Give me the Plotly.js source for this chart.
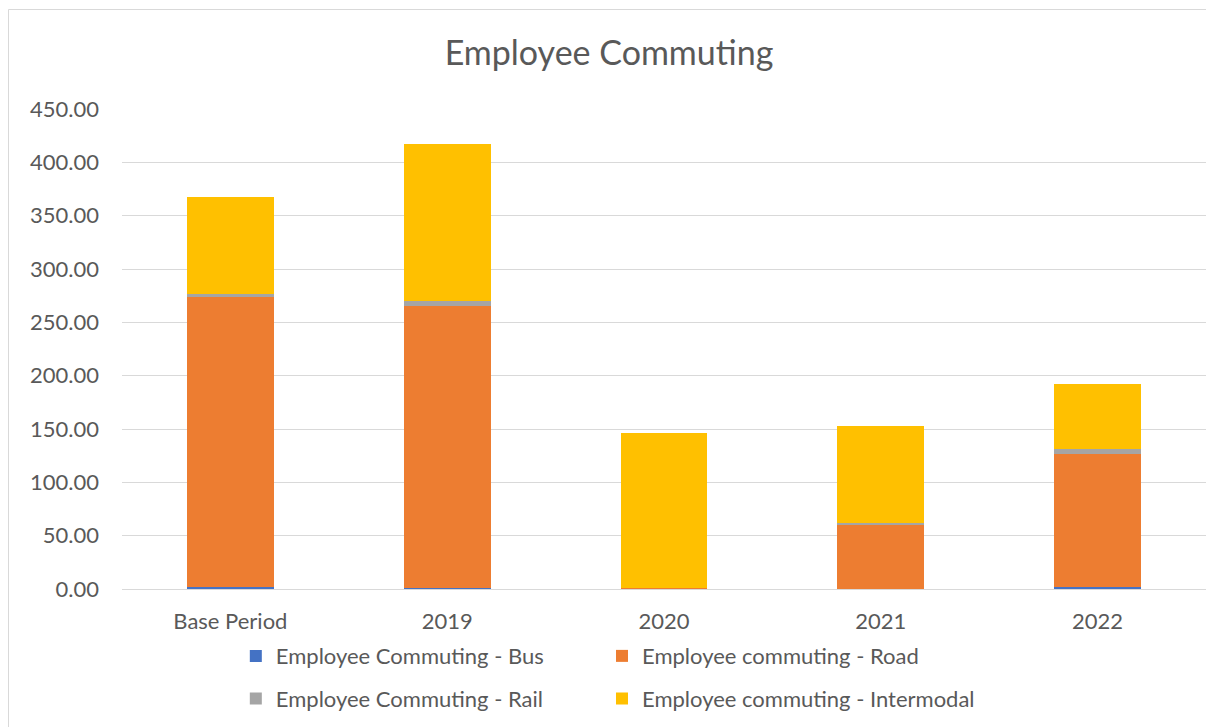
<!DOCTYPE html>
<html>
<head>
<meta charset="utf-8">
<script src="https://cdn.plot.ly/plotly-3.0.1.min.js"></script>
<style>
html,body{margin:0;padding:0;background:#fff;overflow:hidden;}
#chart{width:1206px;height:727px;}
</style>
</head>
<body>
<div id="chart"></div>
<script>
const categories = ["Base Period", "2019", "2020", "2021", "2022"];
const busValues = [2.0, 0.6, 0.0, 0.3, 1.5];
const roadValues = [272.0, 265.0, 0.5, 60.0, 125.5];
const railValues = [2.5, 4.6, 0.3, 1.2, 4.4];
const intermodalValues = [91.0, 147.0, 145.5, 91.3, 60.7];
const seriesNames = ["Employee Commuting - Bus", "Employee commuting - Road", "Employee Commuting - Rail", "Employee commuting - Intermodal"];
const seriesColors = ["#4472C4", "#ED7D31", "#A5A5A5", "#FFC000"];
const seriesLegends = ["legend", "legend2", "legend3", "legend4"];
const seriesValues = [busValues, roadValues, railValues, intermodalValues];

const font = "Lato, 'Open Sans', sans-serif";
const traces = seriesValues.map((vals, i) => ({
  type: "bar",
  name: seriesNames[i],
  x: categories,
  y: vals,
  legend: seriesLegends[i],
  marker: {color: seriesColors[i], line: {width: 0}},
  hoverinfo: "x+y+name"
}));

const legendBase = {orientation: "h", xanchor: "left", yanchor: "top", traceorder: "normal",
  font: {family: font, size: 22, color: "#595959"}, itemwidth: 30, bgcolor: "rgba(0,0,0,0)"};
const col1 = 0.105, col2 = 0.4428, row1 = -0.096, row2 = -0.185;

const borderColor = "#d9d9d9";
const layout = {
  width: 1206, height: 727,
  margin: {l: 122, r: 0, t: 109, b: 138},
  paper_bgcolor: "#fff", plot_bgcolor: "#fff",
  barmode: "stack",
  bargap: 0.6,
  font: {family: font, color: "#595959", size: 22},
  title: {text: "Employee Commuting", font: {family: font, size: 34, color: "#595959"},
          x: 0.505, xref: "container", xanchor: "center", y: 1 - 53/727, yref: "container", yanchor: "middle"},
  xaxis: {type: "category", showgrid: false, zeroline: false, showline: false,
          ticks: "", ticklabelstandoff: 17, tickfont: {family: font, size: 22, color: "#595959"}},
  yaxis: {range: [0, 450], dtick: 50, tickformat: ".2f", showgrid: true, gridcolor: "#d9d9d9", gridwidth: 1,
          zeroline: true, zerolinecolor: "#d9d9d9", zerolinewidth: 1, showline: false, ticks: "",
          ticklabelstandoff: 22, tickfont: {family: font, size: 22, color: "#595959"}},
  showlegend: true,
  legend: Object.assign({}, legendBase, {x: col1, y: row1}),
  legend2: Object.assign({}, legendBase, {x: col2, y: row1}),
  legend3: Object.assign({}, legendBase, {x: col1, y: row2}),
  legend4: Object.assign({}, legendBase, {x: col2, y: row2}),
  shapes: [
    {type: "line", xref: "paper", yref: "paper", x0: -0.1047, x1: -0.1047, y0: 1.2073, y1: -0.29,
     line: {color: borderColor, width: 1}},
    {type: "line", xref: "paper", yref: "paper", x0: -0.1047, x1: 1.05, y0: 1.2073, y1: 1.2073,
     line: {color: borderColor, width: 1}}
  ]
};

Plotly.newPlot("chart", traces, layout, {displayModeBar: false, staticPlot: true});
</script>
</body>
</html>
